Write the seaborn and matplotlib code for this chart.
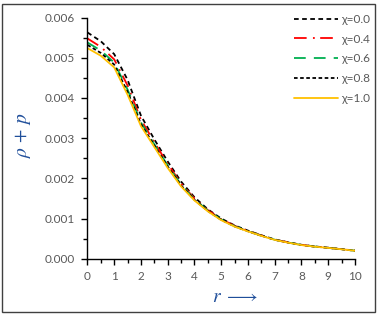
import numpy as np
import pandas as pd
import matplotlib
matplotlib.use("Agg")
import matplotlib.pyplot as plt
import seaborn as sns
from matplotlib.patches import Rectangle
from matplotlib.ticker import MultipleLocator, FormatStrFormatter

# ---- data ----
r = [0, 0.5, 1, 1.5, 2, 2.5, 3, 3.5, 4, 4.5, 5, 5.5, 6, 6.5, 7, 7.5, 8, 8.5, 9, 9.5, 10]
chi_00 = [5.63e-3, 5.41e-3, 5.09e-3, 4.45e-3, 3.56e-3, 2.97e-3, 2.42e-3, 1.92e-3, 1.53e-3, 1.23e-3, 1.00e-3,
          0.830e-3, 0.700e-3, 0.585e-3, 0.480e-3, 0.410e-3, 0.348e-3, 0.306e-3, 0.275e-3, 0.239e-3, 0.203e-3]
chi_04 = [5.48e-3, 5.27e-3, 4.96e-3, 4.31e-3, 3.46e-3, 2.90e-3, 2.36e-3, 1.875e-3, 1.50e-3, 1.21e-3, 0.985e-3,
          0.820e-3, 0.692e-3, 0.580e-3, 0.476e-3, 0.406e-3, 0.345e-3, 0.304e-3, 0.273e-3, 0.237e-3, 0.202e-3]
chi_06 = [5.38e-3, 5.18e-3, 4.88e-3, 4.21e-3, 3.39e-3, 2.85e-3, 2.32e-3, 1.845e-3, 1.48e-3, 1.20e-3, 0.975e-3,
          0.810e-3, 0.687e-3, 0.575e-3, 0.474e-3, 0.403e-3, 0.343e-3, 0.302e-3, 0.272e-3, 0.236e-3, 0.201e-3]
chi_08 = [5.32e-3, 5.12e-3, 4.83e-3, 4.15e-3, 3.35e-3, 2.82e-3, 2.295e-3, 1.825e-3, 1.466e-3, 1.19e-3, 0.968e-3,
          0.806e-3, 0.684e-3, 0.573e-3, 0.472e-3, 0.402e-3, 0.342e-3, 0.301e-3, 0.271e-3, 0.235e-3, 0.200e-3]
chi_10 = [5.24e-3, 5.05e-3, 4.76e-3, 4.08e-3, 3.30e-3, 2.78e-3, 2.26e-3, 1.80e-3, 1.45e-3, 1.18e-3, 0.960e-3,
          0.800e-3, 0.680e-3, 0.570e-3, 0.470e-3, 0.400e-3, 0.340e-3, 0.300e-3, 0.270e-3, 0.235e-3, 0.200e-3]
labels = ["χ=0.0", "χ=0.4", "χ=0.6", "χ=0.8", "χ=1.0"]
x_ticks = [0, 1, 2, 3, 4, 5, 6, 7, 8, 9, 10]
y_ticks = [0.000, 0.001, 0.002, 0.003, 0.004, 0.005, 0.006]

series = [chi_00, chi_04, chi_06, chi_08, chi_10]
df = pd.DataFrame({
    "r": np.tile(r, len(series)),
    "val": np.concatenate(series),
    "chi": np.repeat(labels, len(r)),
})

colors = ["#000000", "#FF0000", "#00B050", "#000000", "#FFC000"]
dashes = [(2.6, 1.9), (7, 3.5, 1, 3), (6.5, 4.5), (2.0, 1.4), None]

sns.set_theme(style="white")
plt.rcParams["font.family"] = ["Lato", "DejaVu Sans"]
plt.rcParams["mathtext.fontset"] = "stix"

fig = plt.figure(figsize=(3.82, 3.14), dpi=100)
ax = fig.add_axes([0.229, 0.176, 0.700, 0.768])

for lab, col, ds in zip(labels, colors, dashes):
    sub = df[df["chi"] == lab]
    sns.lineplot(data=sub, x="r", y="val", ax=ax, color=col, lw=1.3, label=lab)
    l = ax.lines[-1]
    if ds is not None:
        l.set_dashes(ds)

ax.set_xlim(0, 10)
ax.set_ylim(0, 0.006)
ax.set_xticks(x_ticks)
ax.set_yticks(y_ticks)
ax.yaxis.set_major_formatter(FormatStrFormatter("%.3f"))
ax.xaxis.set_minor_locator(MultipleLocator(0.5))
ax.yaxis.set_minor_locator(MultipleLocator(0.0005))
ax.set_xlabel("")
ax.set_ylabel("")
for s in ["top", "right"]:
    ax.spines[s].set_visible(False)
for s in ["left", "bottom"]:
    ax.spines[s].set_color("black")
    ax.spines[s].set_linewidth(1.0)
ax.tick_params(which="major", direction="out", length=4, width=1, color="black",
               labelsize=8.5, labelcolor="#595959", pad=5, left=True, bottom=True)
ax.tick_params(which="minor", direction="out", length=3, width=1, color="black",
               left=True, bottom=True)

leg = ax.legend(loc="upper right", bbox_to_anchor=(0.985, 0.975), bbox_transform=fig.transFigure,
                frameon=False, fontsize=8.5, handlelength=3.7, handletextpad=0.3,
                labelspacing=0.75, borderpad=0)
for t in leg.get_texts():
    t.set_color("#595959")

fig.text(0.06, 1 - 135 / 314, r"$\rho\,+\,p$", rotation=90, ha="center", va="center",
         fontsize=14, color="#1F4E9A")
fig.text(0.615, 1 - 297 / 314, r"$r\;\longrightarrow$", ha="center", va="center",
         fontsize=14, color="#1F4E9A")

fig.patches.append(Rectangle((0.006, 0.006), 0.976, 0.98, transform=fig.transFigure,
                             fill=False, edgecolor="#404040", lw=1.0))

fig.savefig("out.png", dpi=100)
